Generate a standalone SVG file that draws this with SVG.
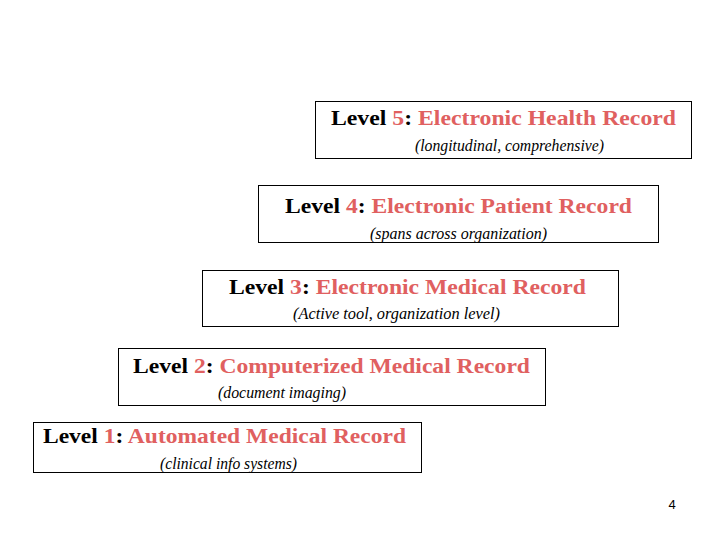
<svg xmlns="http://www.w3.org/2000/svg" width="720" height="540" viewBox="0 0 720 540">
<style>
.b{fill:#fff;stroke:#000;stroke-width:1}
.t{font-family:"Liberation Serif",serif;font-weight:bold;font-size:21px;fill:#000}
.r{fill:#e06060}
.s{font-family:"Liberation Serif",serif;font-style:italic;font-size:16px;fill:#000}
</style>
<rect width="720" height="540" fill="#fff"/>
<g id="level5"><rect class="b" x="315.5" y="101.5" width="376" height="57"/>
<text class="t" x="331" y="125" textLength="345" lengthAdjust="spacingAndGlyphs">Level <tspan class="r">5</tspan>: <tspan class="r">Electronic Health Record</tspan></text>
<text class="s" x="415" y="151" textLength="189" lengthAdjust="spacingAndGlyphs">(longitudinal, comprehensive)</text></g>
<g id="level4"><rect class="b" x="258.5" y="185.5" width="400" height="57"/>
<text class="t" x="285" y="213" textLength="347" lengthAdjust="spacingAndGlyphs">Level <tspan class="r">4</tspan>: <tspan class="r">Electronic Patient Record</tspan></text>
<text class="s" x="370" y="239" textLength="177" lengthAdjust="spacingAndGlyphs">(spans across organization)</text></g>
<g id="level3"><rect class="b" x="202.5" y="270.5" width="416" height="56"/>
<text class="t" x="229" y="294" textLength="357" lengthAdjust="spacingAndGlyphs">Level <tspan class="r">3</tspan>: <tspan class="r">Electronic Medical Record</tspan></text>
<text class="s" x="293" y="319" textLength="207" lengthAdjust="spacingAndGlyphs">(Active tool, organization level)</text></g>
<g id="level2"><rect class="b" x="118.5" y="348.5" width="427" height="57"/>
<text class="t" x="133" y="373" textLength="397" lengthAdjust="spacingAndGlyphs">Level <tspan class="r">2</tspan>: <tspan class="r">Computerized Medical Record</tspan></text>
<text class="s" x="218" y="398" textLength="128" lengthAdjust="spacingAndGlyphs">(document imaging)</text></g>
<g id="level1"><rect class="b" x="33.5" y="422.5" width="388" height="50"/>
<text class="t" x="43" y="443" textLength="363" lengthAdjust="spacingAndGlyphs">Level <tspan class="r">1</tspan>: <tspan class="r">Automated Medical Record</tspan></text>
<text class="s" x="160" y="469" textLength="137" lengthAdjust="spacingAndGlyphs">(clinical info systems)</text></g>
<g id="connectors"/>
<text x="672" y="509" font-family="Liberation Sans,sans-serif" font-size="13" text-anchor="middle">4</text>
</svg>
